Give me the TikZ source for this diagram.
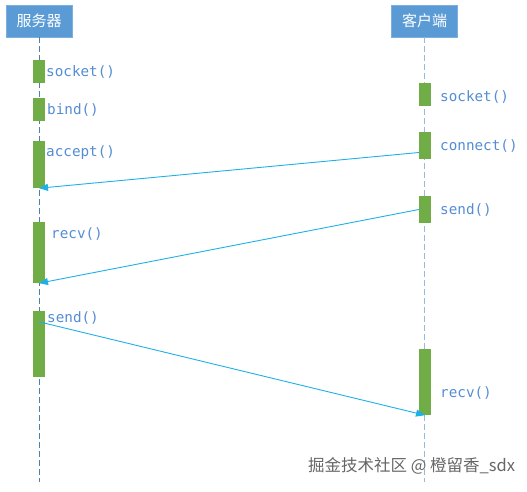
\documentclass[tikz,border=0pt]{standalone}
\usepackage{fontspec}
\usepackage{tikz}
\usetikzlibrary{arrows.meta,positioning,calc}
\newfontfamily\cjkfont{Noto Sans CJK SC}
\newfontfamily\codefont{DejaVu Sans Mono}
\definecolor{headblue}{RGB}{91,155,213}
\definecolor{actgreen}{RGB}{112,173,71}
\definecolor{callblue}{RGB}{84,141,212}
\definecolor{msgcyan}{RGB}{30,176,230}
\definecolor{lifedark}{RGB}{78,128,168}
\definecolor{lifelight}{RGB}{150,185,225}

\begin{document}
\begin{tikzpicture}[x=1pt, y=-1pt,
    head/.style={fill=headblue, draw=headblue!80!white, text=white, minimum width=66pt, minimum height=32pt, inner sep=0pt, font=\cjkfont\fontsize{15}{15}\selectfont},
    act/.style={fill=actgreen, minimum width=12pt, minimum height=#1, inner sep=0pt},
    call/.style={text=callblue, anchor=west, inner sep=0pt, font=\codefont\fontsize{14.3}{14.3}\selectfont},
    life/.style={dashed, dash pattern=on 6pt off 3pt, line width=0.8pt},
    msg/.style={-{Triangle[length=9pt,width=7pt]}, msgcyan, line width=0.9pt}
]
\useasboundingbox (0,0) rectangle (527,491);

% heads and lifelines
\node[head] (srv) at (39,21) {服务器};
\node[head] (cli) at (424.5,21) {客户端};
\coordinate (srvend) at (39,482);
\coordinate (cliend) at (424.5,482);
\draw[life, lifedark] (srv) -- (srvend);
\draw[life, lifelight] (cli) -- (cliend);

% server activations
\node[act=23pt] (ssocket) at (39,71.5) {};
\node[act=23pt] (sbind) at (39,109.5) {};
\node[act=47pt] (saccept) at (39,164.5) {};
\node[act=61pt] (srecv) at (39,252.5) {};
\node[act=66pt] (ssend) at (39,344) {};

% client activations
\node[act=23pt] (csocket) at (425,94.5) {};
\node[act=27pt] (cconnect) at (425,145.5) {};
\node[act=27pt] (csend) at (425,209.5) {};
\node[act=66pt] (crecv) at (425,382) {};

% labels
\node[call] at (46,72) {socket()};
\node[call] at (47,110) {bind()};
\node[call] at (46,153) {accept()};
\node[call] at (51,234) {recv()};
\node[call] at (47,318) {send()};
\node[call] at (440,97) {socket()};
\node[call] at (440,146) {connect()};
\node[call] at (440,210) {send()};
\node[call] at (440,393) {recv()};

% messages
\draw[msg] ([yshift=-7pt]cconnect.west) -- (saccept.south);
\draw[msg] (csend.west) -- (srecv.south);
\draw[msg] ([yshift=-11pt]ssend.north) -- (crecv.south);

% credit
\node[text=black!60, anchor=west, inner sep=0pt, font=\cjkfont\fontsize{16.5}{16.5}\selectfont] (credit) at (308,466) {掘金技术社区 @ 橙留香\_sdx};
\end{tikzpicture}
\end{document}
